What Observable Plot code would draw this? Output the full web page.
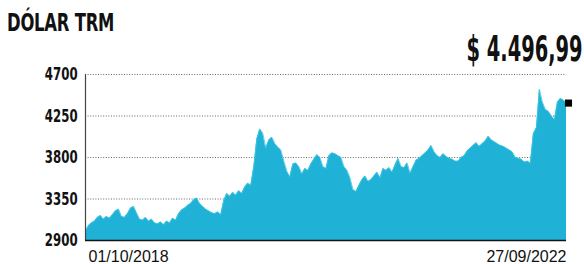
<!DOCTYPE html>
<html>
<head>
<meta charset="utf-8">
<script src="https://cdn.jsdelivr.net/npm/d3@7"></script>
<script src="https://cdn.jsdelivr.net/npm/@observablehq/plot@0.6"></script>
<style>
  html, body { margin: 0; padding: 0; background: #fff; }
  #wrap { position: relative; width: 584px; height: 264px; overflow: hidden; }
  .cond { font-family: "Liberation Sans Narrow", "DejaVu Sans Condensed", "Liberation Sans", sans-serif; font-stretch: condensed; }
  #title { position: absolute; left: 7px; top: 9px; font-size: 24px; font-weight: bold; color: #111; transform: scaleX(0.76); transform-origin: left top; white-space: nowrap; letter-spacing: -0.3px; }
  #price { position: absolute; right: 1px; top: 28px; font-size: 36px; font-weight: bold; color: #111; transform: scaleX(0.6); transform-origin: right top; white-space: nowrap; }
  .ytick { position: absolute; right: 506px; font-size: 17px; line-height: 18px; font-weight: bold; color: #111; transform: scaleX(0.77); transform-origin: right center; white-space: nowrap; }
  svg { display: block; }
</style>
</head>
<body>
<div id="wrap">
  <div id="title" class="cond"></div>
  <div id="price" class="cond"></div>
</div>
<script>
const titleText = "DÓLAR TRM";
const priceText = "$ 4.496,99";
const xTickLabels = ["01/10/2018", "27/09/2022"];
const yTicks = [2900, 3350, 3800, 4250, 4700];
// TRM readings, oldest to newest (approx. equally spaced samples)
const trmValues = [
  3000, 3060, 3090, 3110, 3150, 3170, 3130, 3160, 3140, 3180,
  3220, 3240, 3160, 3150, 3190, 3250, 3270, 3200, 3130, 3120,
  3150, 3110, 3130, 3090, 3080, 3100, 3070, 3110, 3090, 3140,
  3120, 3190, 3230, 3250, 3280, 3300, 3340, 3360, 3300, 3270,
  3240, 3220, 3200, 3190, 3210, 3180, 3330, 3410, 3380, 3420,
  3390, 3440, 3410, 3480, 3520, 3500, 3700, 4000, 4110, 4060,
  3900, 3990, 4020, 3950, 3910, 3880, 3760, 3650, 3590, 3730,
  3740, 3700, 3620, 3680, 3660, 3730, 3780, 3830, 3800, 3700,
  3680, 3820, 3850, 3840, 3820, 3800, 3700, 3660, 3580, 3450,
  3430, 3500, 3560, 3600, 3540, 3560, 3600, 3640, 3580, 3680,
  3660, 3690, 3640, 3720, 3790, 3700, 3690, 3740, 3630, 3700,
  3770, 3790, 3820, 3850, 3880, 3930, 3860, 3820, 3800, 3840,
  3810, 3790, 3780, 3760, 3760, 3800, 3820, 3870, 3900, 3930,
  3960, 3920, 3950, 3980, 4030, 3990, 3970, 3950, 3930, 3920,
  3900, 3880, 3860, 3800, 3790, 3780, 3750, 3760, 3740, 4060,
  4120, 4540, 4400, 4320, 4300, 4250, 4210, 4400, 4440, 4420,
  4390
];

document.getElementById("title").textContent = titleText;
document.getElementById("price").textContent = priceText;

const data = trmValues.map((v, i) => ({i, v}));
const n = data.length;
const last = data[n - 1];

const chart = Plot.plot({
  width: 584,
  height: 264,
  marginLeft: 85,
  marginRight: 18,
  marginTop: 74,
  marginBottom: 24,
  style: {background: "transparent", overflow: "visible"},
  x: {domain: [0, n - 1], axis: null},
  y: {domain: [2900, 4700], axis: null},
  marks: [
    Plot.ruleY(yTicks.slice(1), {stroke: "#666", strokeWidth: 1, strokeDasharray: "1,1.6"}),
    Plot.areaY(data, {x: "i", y1: 2900, y2: "v", fill: "#1fb1d6", curve: "linear"}),
    Plot.lineY(data, {x: "i", y: "v", stroke: "#3cc6e2", strokeWidth: 0.8}),
    Plot.ruleX([0], {stroke: "#444", strokeWidth: 1.2}),
    Plot.ruleY([2900], {stroke: "#111", strokeWidth: 1.5}),
    Plot.dot([last], {x: "i", y: "v", symbol: "square", r: 4, fill: "#000", dx: 2}),
    Plot.text([{i: 0, t: xTickLabels[0]}], {x: "i", frameAnchor: "bottom", dy: 21, dx: 3, textAnchor: "start", text: "t", fontSize: 16, fontFamily: "Liberation Sans, sans-serif", fill: "#111"}),
    Plot.text([{i: n - 1, t: xTickLabels[1]}], {x: "i", frameAnchor: "bottom", dy: 21, dx: 0, textAnchor: "end", text: "t", fontSize: 16, fontFamily: "Liberation Sans, sans-serif", fill: "#111"})
  ]
});
chart.style.position = "absolute";
chart.style.left = "0";
chart.style.top = "0";
const wrap = document.getElementById("wrap");
wrap.insertBefore(chart, document.getElementById("title"));

// y tick labels, positioned with the chart's own y scale (condensed type)
const yScale = chart.scale("y");
yTicks.forEach(t => {
  const d = document.createElement("div");
  d.className = "ytick cond";
  d.textContent = String(t);
  d.style.top = (yScale.apply(t) - 9) + "px";
  wrap.appendChild(d);
});
</script>
</body>
</html>
